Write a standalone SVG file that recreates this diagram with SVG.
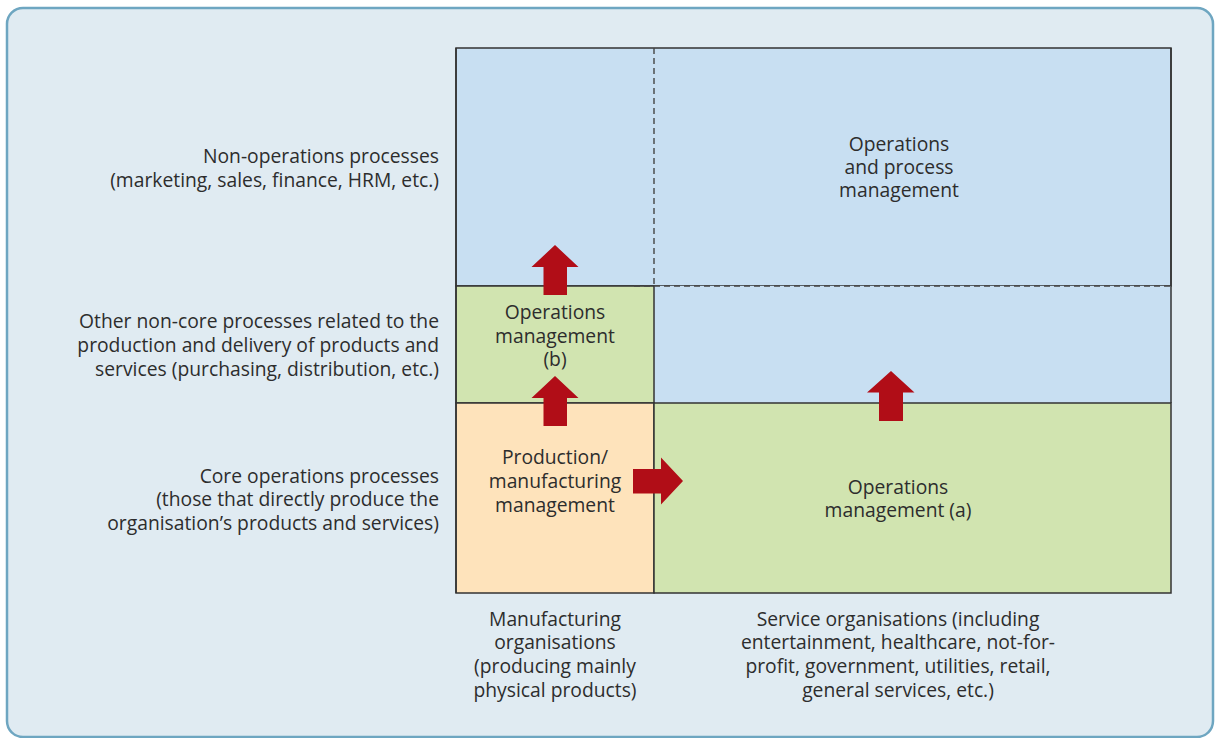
<svg xmlns="http://www.w3.org/2000/svg" width="1215" height="738" viewBox="0 0 1215 738">
<style>
text{font-family:"Open Sans","Noto Sans",sans-serif;font-size:19.3px;fill:#2d2d2d}
.r{text-anchor:end}
.c{text-anchor:middle}
.cell{stroke:#333;stroke-width:1.5}
.dash{stroke:#444;stroke-width:1.4;stroke-dasharray:6 4;fill:none}
.arrow{fill:#b10d17}
</style>
<rect x="7" y="8" width="1206" height="729" rx="16" fill="#e0ebf2" stroke="#6ea6c1" stroke-width="2.5"/>
<g id="labels-left">
<text class="r" x="439" y="163">Non-operations processes</text>
<text class="r" x="439" y="187">(marketing, sales, finance, HRM, etc.)</text>
<text class="r" x="439" y="328">Other non-core processes related to the</text>
<text class="r" x="439" y="352">production and delivery of products and</text>
<text class="r" x="439" y="376">services (purchasing, distribution, etc.)</text>
<text class="r" x="439" y="483">Core operations processes</text>
<text class="r" x="439" y="506">(those that directly produce the</text>
<text class="r" x="439" y="530">organisation’s products and services)</text>
</g>
<g id="cell-opm">
<rect class="cell" x="456" y="48" width="715" height="238" fill="#c8dff2"/>
<rect x="654" y="286" width="517" height="117" fill="#c8dff2"/>
<text class="c" x="899" y="151">Operations</text>
<text class="c" x="899" y="174">and process</text>
<text class="c" x="899" y="197">management</text>
</g>
<g id="cell-omb">
<rect class="cell" x="456" y="286" width="198" height="117" fill="#d1e4b0"/>
<text class="c" x="555" y="319">Operations</text>
<text class="c" x="555" y="343">management</text>
<text class="c" x="555" y="366">(b)</text>
</g>
<g id="cell-pmm">
<rect class="cell" x="456" y="403" width="198" height="190" fill="#fee3bb"/>
<text class="c" x="555" y="464">Production/</text>
<text class="c" x="555" y="488">manufacturing</text>
<text class="c" x="555" y="512">management</text>
</g>
<g id="cell-oma">
<rect class="cell" x="654" y="403" width="517" height="190" fill="#d1e4b0"/>
<text class="c" x="898" y="494">Operations</text>
<text class="c" x="898" y="517">management (a)</text>
</g>
<g id="grid-lines">
<line class="cell" x1="456" y1="48" x2="456" y2="593"/>
<line class="cell" x1="1171" y1="48" x2="1171" y2="403"/>
<line class="dash" x1="654" y1="48" x2="654" y2="286"/>
<line class="dash" x1="634" y1="286" x2="1171" y2="286"/>
</g>
<g id="labels-bottom">
<text class="c" x="555" y="626">Manufacturing</text>
<text class="c" x="555" y="649">organisations</text>
<text class="c" x="555" y="673">(producing mainly</text>
<text class="c" x="555" y="697">physical products)</text>
<text class="c" x="898" y="626">Service organisations (including</text>
<text class="c" x="898" y="649">entertainment, healthcare, not-for-</text>
<text class="c" x="898" y="673">profit, government, utilities, retail,</text>
<text class="c" x="898" y="697">general services, etc.)</text>
</g>
<g id="connectors">
<polygon class="arrow" points="543.5,295 567,295 567,267 578.5,267 555,245 531.5,267 543.5,267"/>
<polygon class="arrow" points="543.5,426 567,426 567,398 578.5,398 555,376 531.5,398 543.5,398"/>
<polygon class="arrow" points="879,421 903,421 903,392.5 914.5,392.5 891,371 867,392.5 879,392.5"/>
<polygon class="arrow" points="633,469 661,469 661,457.5 683,481 661,504.5 661,493.5 633,493.5"/>
</g>
</svg>
